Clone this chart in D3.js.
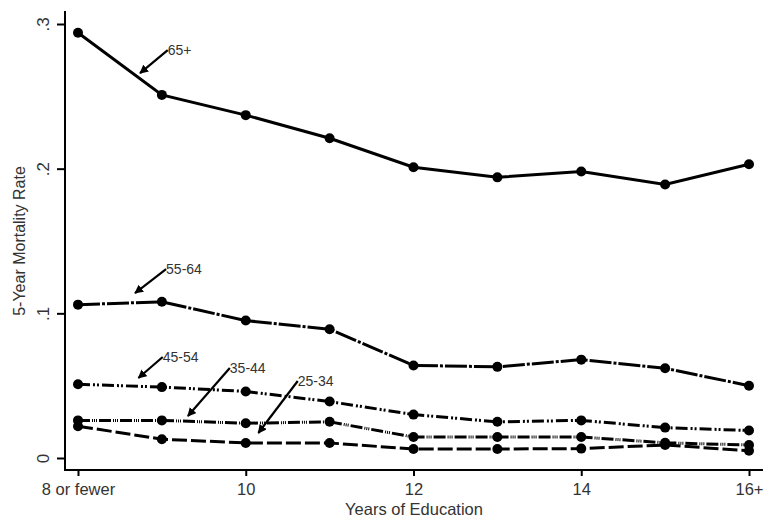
<!DOCTYPE html>
<html>
<head>
<meta charset="utf-8">
<script src="https://cdn.jsdelivr.net/npm/d3@7"></script>
<style>
  body { margin: 0; background: #fff; }
  svg { display: block; font-family: "Liberation Sans", Arial, sans-serif; }
</style>
</head>
<body>
<div id="chart"></div>
<script>
// years of education (8 = "8 or fewer", 16 = "16+")
const years = [8, 9, 10, 11, 12, 13, 14, 15, 16];
const xTickValues = [8, 10, 12, 14, 16];
const xTickLabels = ['8 or fewer', '10', '12', '14', '16+'];
const yTickValues = [0, 0.1, 0.2, 0.3];
const yTickLabels = ['0', '.1', '.2', '.3'];

const ageGroups = ['65+', '55-64', '45-54', '35-44', '25-34'];
const rate65 = [0.294, 0.251, 0.237, 0.221, 0.201, 0.194, 0.198, 0.189, 0.203];
const rate55 = [0.106, 0.108, 0.095, 0.089, 0.064, 0.063, 0.068, 0.062, 0.050];
const rate45 = [0.051, 0.049, 0.046, 0.039, 0.030, 0.025, 0.026, 0.021, 0.019];
const rate35 = [0.026, 0.026, 0.024, 0.025, 0.0145, 0.0145, 0.0145, 0.0105, 0.009];
const rate25 = [0.022, 0.013, 0.0104, 0.0104, 0.0062, 0.0062, 0.0065, 0.009, 0.005];

// arrow annotations in data units: tail (label end) and tip
const annTail = [[9.07, 0.282], [9.05, 0.1306], [9.01, 0.0698], [9.81, 0.0622], [10.62, 0.0532]];
const annTip = [[8.74, 0.266], [8.68, 0.114], [8.72, 0.0553], [9.31, 0.029], [10.15, 0.0173]];

const series = [rate65, rate55, rate45, rate35, rate25];
const dashes = [null, '22,2,3,2', '12,3,2,2,2,3', '12,2,1,1,1,1,1,2', '15,4'];

const width = 766, height = 520;
const x = d3.scaleLinear().domain([8, 16]).range([78, 749]);
const y = d3.scaleLinear().domain([0, 0.3]).range([458, 24]);
const font = '"Liberation Sans", Arial, sans-serif';

const svg = d3.select('#chart').append('svg')
  .attr('width', width)
  .attr('height', height);

svg.append('defs').append('marker')
  .attr('id', 'arrow')
  .attr('viewBox', '0 0 10 10')
  .attr('refX', 9).attr('refY', 5)
  .attr('markerWidth', 4).attr('markerHeight', 4)
  .attr('orient', 'auto')
  .append('path')
  .attr('d', 'M0,0 L10,5 L0,10 z')
  .attr('fill', '#000');

// axes
const xAxis = svg.append('g')
  .attr('transform', 'translate(0,470)')
  .call(d3.axisBottom(x).tickValues(xTickValues).tickSize(6).tickPadding(7)
    .tickFormat((d, i) => xTickLabels[i]));
xAxis.select('.domain').attr('d', 'M65,0H763').attr('stroke-width', 2);
xAxis.selectAll('.tick line').attr('stroke-width', 2);
xAxis.selectAll('text').attr('font-size', 16.5).attr('fill', '#333')
  .attr('font-family', font);

const yAxis = svg.append('g')
  .attr('transform', 'translate(65,0)')
  .call(d3.axisLeft(y).tickValues(yTickValues).tickSize(8).tickPadding(5)
    .tickFormat((d, i) => yTickLabels[i]));
yAxis.select('.domain').attr('d', 'M0,11V471').attr('stroke-width', 2);
yAxis.selectAll('.tick line').attr('stroke-width', 2);
yAxis.selectAll('text')
  .attr('font-size', 17).attr('fill', '#333')
  .attr('font-family', font)
  .attr('text-anchor', 'middle')
  .attr('x', 0).attr('dy', 0)
  .attr('transform', 'translate(-16,0) rotate(-90)');

svg.append('text')
  .attr('transform', `translate(25,${(y(0) + y(0.3)) / 2}) rotate(-90)`)
  .attr('text-anchor', 'middle')
  .attr('font-size', 16).attr('fill', '#333')
  .text('5-Year Mortality Rate');

svg.append('text')
  .attr('x', 414).attr('y', 515)
  .attr('text-anchor', 'middle')
  .attr('font-size', 16.5).attr('fill', '#333')
  .text('Years of Education');

// lines and markers
const line = d3.line().x((d, i) => x(years[i])).y(d => y(d));

series.forEach((vals, s) => {
  svg.append('path')
    .datum(vals)
    .attr('d', line)
    .attr('fill', 'none')
    .attr('stroke', '#000')
    .attr('stroke-width', 3)
    .attr('stroke-dasharray', dashes[s]);

  svg.selectAll(null)
    .data(vals)
    .enter()
    .append('circle')
    .attr('cx', (d, i) => x(years[i]))
    .attr('cy', d => y(d))
    .attr('r', 5)
    .attr('fill', '#000');
});

// age labels with arrows
ageGroups.forEach((g, i) => {
  const [tx, ty] = annTail[i];
  const [hx, hy] = annTip[i];
  svg.append('line')
    .attr('x1', x(tx)).attr('y1', y(ty))
    .attr('x2', x(hx)).attr('y2', y(hy))
    .attr('stroke', '#000')
    .attr('stroke-width', 2.2)
    .attr('marker-end', 'url(#arrow)');
  svg.append('text')
    .attr('x', x(tx)).attr('y', y(ty) + 5)
    .attr('font-size', 14).attr('fill', '#333')
    .text(g);
});
</script>
</body>
</html>
